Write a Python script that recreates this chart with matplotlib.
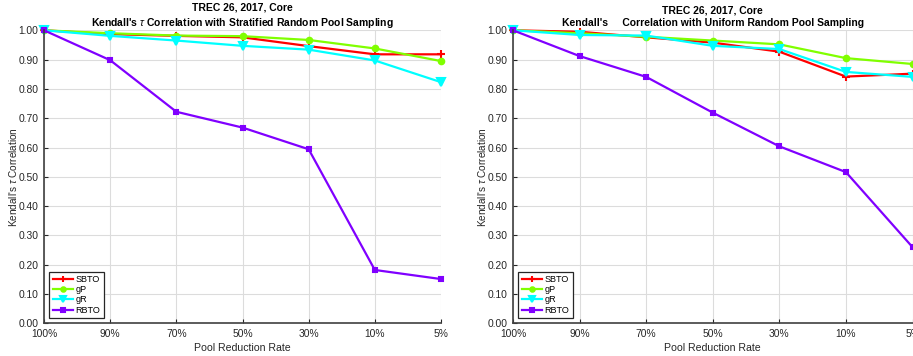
import matplotlib
matplotlib.use('Agg')
import matplotlib.pyplot as plt

plt.rcParams['font.family'] = ['Liberation Sans', 'DejaVu Sans']
plt.rcParams['mathtext.fontset'] = 'custom'
plt.rcParams['mathtext.it'] = 'Liberation Sans:italic'

# Data
rates = ['100%', '90%', '70%', '50%', '30%', '10%', '5%']
series = ['SBTO', 'gP', 'gR', 'RBTO']

strat_sbto = [1.0, 0.987, 0.981, 0.976, 0.946, 0.918, 0.918]
strat_gp = [1.0, 0.990, 0.982, 0.980, 0.967, 0.938, 0.895]
strat_gr = [1.0, 0.981, 0.965, 0.947, 0.934, 0.897, 0.823]
strat_rbto = [1.0, 0.898, 0.722, 0.668, 0.594, 0.182, 0.151]

unif_sbto = [1.0, 0.995, 0.976, 0.958, 0.927, 0.842, 0.852]
unif_gp = [1.0, 0.990, 0.978, 0.965, 0.952, 0.905, 0.885]
unif_gr = [1.0, 0.984, 0.982, 0.947, 0.936, 0.858, 0.841]
unif_rbto = [1.0, 0.912, 0.841, 0.719, 0.604, 0.516, 0.260]

colors = ['#ff0000', '#80ff00', '#00ffff', '#8000ff']
markers = ['+', 'o', 'v', 's']
msizes = [6, 4, 6, 3]

fig = plt.figure(figsize=(9.13, 3.56), dpi=100)
ax1 = fig.add_axes([44 / 913, 1 - 323.3 / 356, 397 / 913, 293 / 356])
ax2 = fig.add_axes([513 / 913, 1 - 323.3 / 356, 399.5 / 913, 293 / 356])

panels = [
    (ax1, [strat_sbto, strat_gp, strat_gr, strat_rbto],
     "Kendall's $\\tau$ Correlation with Stratified Random Pool Sampling"),
    (ax2, [unif_sbto, unif_gp, unif_gr, unif_rbto],
     "Kendall's     Correlation with Uniform Random Pool Sampling"),
]

x = list(range(len(rates)))
for ax, data, sub in panels:
    for vals, name, c, m, ms in zip(data, series, colors, markers, msizes):
        ax.plot(x, vals, color=c, marker=m, markersize=ms, linewidth=1.6,
                markeredgewidth=1.5, label=name, clip_on=False)
    ax.set_xlim(0, 6)
    ax.set_ylim(0, 1)
    ax.set_xticks(x)
    ax.set_xticklabels(rates)
    ax.set_yticks([i / 10 for i in range(11)])
    ax.set_yticklabels(['%.2f' % (i / 10) for i in range(11)])
    ax.grid(True, color='#dcdcdc', linewidth=0.8)
    ax.set_axisbelow(True)
    for s in ['top', 'right']:
        ax.spines[s].set_visible(False)
    for s in ['left', 'bottom']:
        ax.spines[s].set_color('#404040')
        ax.spines[s].set_linewidth(1.2)
    ax.tick_params(direction='in', length=3, labelsize=7.4, colors='#262626',
                   pad=4)
    ax.set_xlabel('Pool Reduction Rate', fontsize=7.6, color='#262626', labelpad=3)
    ax.set_ylabel("Kendall's $\\tau$ Correlation", fontsize=7.2, color='#262626')
    ax.yaxis.set_label_coords(-0.062, 0.5)
    ax.set_title('TREC 26, 2017, Core\n' + sub, fontsize=7.5, fontweight='bold',
                 pad=3, linespacing=1.35)
    leg = ax.legend(loc='lower left', fontsize=6.5, fancybox=False,
                    edgecolor='#262626', framealpha=1, borderpad=0.35,
                    handlelength=2.3, labelspacing=0.15, handletextpad=0.25,
                    borderaxespad=0.6, markerscale=0.8)
    leg.get_frame().set_linewidth(0.9)

fig.savefig('out.png', dpi=100)
